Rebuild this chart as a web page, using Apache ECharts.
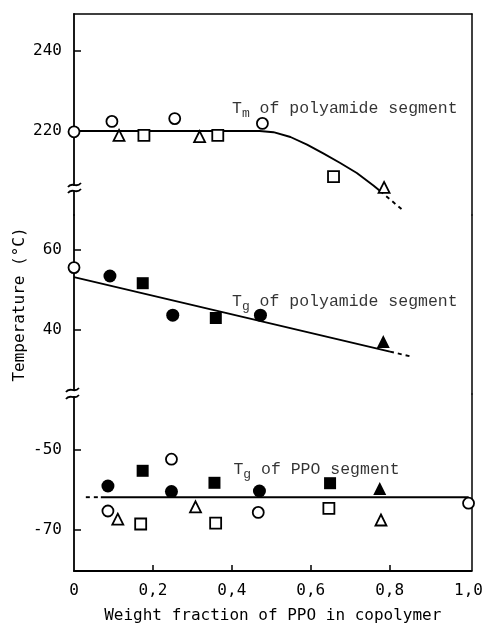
<!DOCTYPE html>
<html><head><meta charset="utf-8">
<script src="https://cdn.jsdelivr.net/npm/echarts@6/dist/echarts.min.js"></script>
<style>html,body{margin:0;padding:0;background:#fff}#c{width:486px;height:625px}</style>
</head><body><div id="c"></div>
<script>
// ---- tick labels ----
const xTicks = [0, 0.2, 0.4, 0.6, 0.8, 1.0];
const xTickMarks = [0.2, 0.4, 0.6, 0.8];
const yTicksTm = [220, 240];
const yTicksTgPA = [40, 60];
const yTicksTgPPO = [-70, -50];

// ---- Tm of polyamide segment ----
const tmOpenCircle = [[0, 219.8], [0.096, 222.4], [0.255, 223.1], [0.477, 221.9]];
const tmOpenTriangle = [[0.114, 218.9], [0.318, 218.6], [0.785, 205.9]];
const tmOpenSquare = [[0.177, 218.9], [0.364, 218.9], [0.657, 208.6]];
const tmCurve = [[0, 220], [0.25, 220], [0.47, 220], [0.505, 219.7], [0.548, 218.5], [0.590, 216.6], [0.631, 214.4], [0.674, 212.0], [0.716, 209.5], [0.758, 206.4], [0.775, 205.0]];
const tmCurveDash = [[0.775, 205.0], [0.830, 200.4]];

// ---- Tg of polyamide segment ----
const tgPaOpenCircle = [[0, 55.6]];
const tgPaFilledCircle = [[0.091, 53.5], [0.25, 43.7], [0.472, 43.7]];
const tgPaFilledSquare = [[0.174, 51.7], [0.359, 43.0]];
const tgPaFilledTriangle = [[0.783, 37.1]];
const tgPaLine = [[0, 53.2], [0.80, 34.6]];
const tgPaLineDash = [[0.80, 34.6], [0.856, 33.3]];

// ---- Tg of PPO segment ----
const ppoOpenCircle = [[0.086, -65.25], [0.247, -52.3], [0.467, -65.6], [1.0, -63.3]];
const ppoFilledCircle = [[0.086, -59], [0.247, -60.4], [0.47, -60.25]];
const ppoOpenTriangle = [[0.111, -67.3], [0.308, -64.2], [0.778, -67.5]];
const ppoFilledTriangle = [[0.775, -59.6]];
const ppoOpenSquare = [[0.169, -68.5], [0.359, -68.3], [0.646, -64.6]];
const ppoFilledSquare = [[0.174, -55.2], [0.356, -58.2], [0.649, -58.3]];
const ppoLine = [[0.068, -61.8], [1.0, -61.8]];
const ppoLineDash = [[0.03, -61.8], [0.068, -61.8]];

// ---- annotations ----
const annTm = [[0.40, 225.6]];
const annTgPa = [[0.40, 47.0]];
const annTgPpo = [[0.404, -55.0]];

const MONO = 'DejaVu Sans Mono';
const ANN = 'Liberation Mono';
const BLACK = '#000';

const chart = echarts.init(document.getElementById('c'), null, {renderer: 'canvas'});

const xMax = 1.0076;
function xAx(gi, opts) {
  return Object.assign({
    type: 'value', gridIndex: gi, min: 0, max: xMax,
    axisLine: {show: false}, axisTick: {show: false}, axisLabel: {show: false}, splitLine: {show: false}
  }, opts || {});
}
function yLeft(gi, min, max, ticks, extra) {
  return Object.assign({
    type: 'value', gridIndex: gi, min: min, max: max, position: 'left',
    axisLine: {show: true, lineStyle: {color: BLACK, width: 1.8}},
    axisTick: {show: true, inside: true, length: 7, lineStyle: {color: BLACK, width: 1.5}, customValues: ticks},
    axisLabel: {show: true, color: BLACK, fontFamily: MONO, fontSize: 16, margin: 12, customValues: ticks},
    splitLine: {show: false}
  }, extra || {});
}
function yRight(gi, min, max) {
  return {
    type: 'value', gridIndex: gi, min: min, max: max, position: 'right',
    axisLine: {show: true, lineStyle: {color: BLACK, width: 1.5}},
    axisTick: {show: false}, axisLabel: {show: false}, splitLine: {show: false}
  };
}

const openStyle = {color: '#fff', borderColor: BLACK, borderWidth: 1.8, opacity: 1};
const fillStyle = {color: BLACK, borderColor: BLACK, borderWidth: 0, opacity: 1};

function sc(name, data, gi, symbol, size, filled) {
  return {
    name: name, type: 'scatter', xAxisIndex: gi, yAxisIndex: gi, data: data,
    symbol: symbol, symbolSize: size, clip: false, z: 5,
    itemStyle: filled ? fillStyle : openStyle, emphasis: {disabled: true}
  };
}
function ln(name, data, gi, dashed) {
  return {
    name: name, type: 'line', xAxisIndex: gi, yAxisIndex: gi, data: data,
    symbol: 'none', smooth: false, clip: false, z: 3,
    lineStyle: {color: BLACK, width: 1.9, type: dashed ? [4, 4] : 'solid', join: 'round'}
  };
}
function ann(name, data, gi, sub, rest) {
  return {
    name: name, type: 'scatter', xAxisIndex: gi, yAxisIndex: gi, data: data,
    symbolSize: 0, clip: false, z: 6, silent: true,
    label: {
      show: true, position: 'right', distance: 0,
      formatter: '{a|T}{b|' + sub + '}{a|' + rest + '}',
      rich: {
        a: {fontFamily: ANN, fontSize: 16.5, color: BLACK, lineHeight: 22, verticalAlign: 'middle'},
        b: {fontFamily: ANN, fontSize: 13, color: BLACK, lineHeight: 22, verticalAlign: 'bottom'}
      }
    }
  };
}

const option = {
  backgroundColor: '#fff',
  animation: false,
  grid: [
    {left: 74, right: 14, top: 14, height: 201},
    {left: 74, right: 14, top: 215, height: 179},
    {left: 74, right: 14, top: 394, height: 177}
  ],
  xAxis: [
    xAx(0, {position: 'top', axisLine: {show: true, lineStyle: {color: BLACK, width: 1.5}}}),
    xAx(1),
    xAx(2, {
      position: 'bottom',
      axisLine: {show: true, lineStyle: {color: BLACK, width: 1.8}},
      axisTick: {show: true, inside: true, length: 6, lineStyle: {color: BLACK, width: 1.5}, customValues: xTickMarks},
      axisLabel: {show: true, color: BLACK, fontFamily: MONO, fontSize: 16, margin: 12, customValues: xTicks,
        formatter: v => (Math.abs(v) < 1e-9 ? '0' : v.toFixed(1).replace('.', ','))},
      name: 'Weight fraction of PPO in copolymer', nameLocation: 'middle', nameGap: 37,
      nameTextStyle: {color: BLACK, fontFamily: MONO, fontSize: 16}
    })
  ],
  yAxis: [
    yLeft(0, 199, 249.25, yTicksTm),
    yLeft(1, 24, 68.75, yTicksTgPA, {
      name: 'Temperature (\u00B0C)', nameLocation: 'middle', nameGap: 46, nameRotate: 90,
      nameTextStyle: {color: BLACK, fontFamily: MONO, fontSize: 16}
    }),
    yLeft(2, -80.25, -36, yTicksTgPPO),
    yRight(0, 199, 249.25),
    yRight(1, 24, 68.75),
    yRight(2, -80.25, -36)
  ],
  series: [
    ln('tmCurve', tmCurve, 0, false),
    ln('tmCurveDash', tmCurveDash, 0, true),
    sc('tmOpenCircle', tmOpenCircle, 0, 'circle', 11, false),
    sc('tmOpenTriangle', tmOpenTriangle, 0, 'triangle', 11, false),
    sc('tmOpenSquare', tmOpenSquare, 0, 'rect', 11, false),
    ann('annTm', annTm, 0, 'm', ' of polyamide segment'),

    ln('tgPaLine', tgPaLine, 1, false),
    ln('tgPaLineDash', tgPaLineDash, 1, true),
    sc('tgPaOpenCircle', tgPaOpenCircle, 1, 'circle', 11, false),
    sc('tgPaFilledCircle', tgPaFilledCircle, 1, 'circle', 13, true),
    sc('tgPaFilledSquare', tgPaFilledSquare, 1, 'rect', 12, true),
    sc('tgPaFilledTriangle', tgPaFilledTriangle, 1, 'triangle', 13, true),
    ann('annTgPa', annTgPa, 1, 'g', ' of polyamide segment'),

    ln('ppoLine', ppoLine, 2, false),
    ln('ppoLineDash', ppoLineDash, 2, true),
    sc('ppoOpenCircle', ppoOpenCircle, 2, 'circle', 11, false),
    sc('ppoFilledCircle', ppoFilledCircle, 2, 'circle', 13, true),
    sc('ppoOpenTriangle', ppoOpenTriangle, 2, 'triangle', 11, false),
    sc('ppoFilledTriangle', ppoFilledTriangle, 2, 'triangle', 13, true),
    sc('ppoOpenSquare', ppoOpenSquare, 2, 'rect', 11, false),
    sc('ppoFilledSquare', ppoFilledSquare, 2, 'rect', 12, true),
    ann('annTgPpo', annTgPpo, 2, 'g', ' of PPO segment')
  ],
  graphic: [
    {type: 'rect', z: 100, shape: {x: 66, y: 186, width: 16, height: 5}, style: {fill: '#fff'}},
    {type: 'bezierCurve', z: 101, shape: {x1: 68, y1: 187, cpx1: 72, cpy1: 181, cpx2: 76, cpy2: 189, x2: 81, y2: 183}, style: {stroke: BLACK, lineWidth: 1.8, fill: null}},
    {type: 'bezierCurve', z: 101, shape: {x1: 68, y1: 193, cpx1: 72, cpy1: 187, cpx2: 76, cpy2: 195, x2: 81, y2: 189}, style: {stroke: BLACK, lineWidth: 1.8, fill: null}},
    {type: 'rect', z: 100, shape: {x: 64, y: 391, width: 16, height: 5}, style: {fill: '#fff'}},
    {type: 'bezierCurve', z: 101, shape: {x1: 66, y1: 392, cpx1: 70, cpy1: 386, cpx2: 74, cpy2: 394, x2: 79, y2: 388}, style: {stroke: BLACK, lineWidth: 1.8, fill: null}},
    {type: 'bezierCurve', z: 101, shape: {x1: 66, y1: 399, cpx1: 70, cpy1: 393, cpx2: 74, cpy2: 401, x2: 79, y2: 395}, style: {stroke: BLACK, lineWidth: 1.8, fill: null}}
  ]
};
chart.setOption(option);
</script>
</body></html>
